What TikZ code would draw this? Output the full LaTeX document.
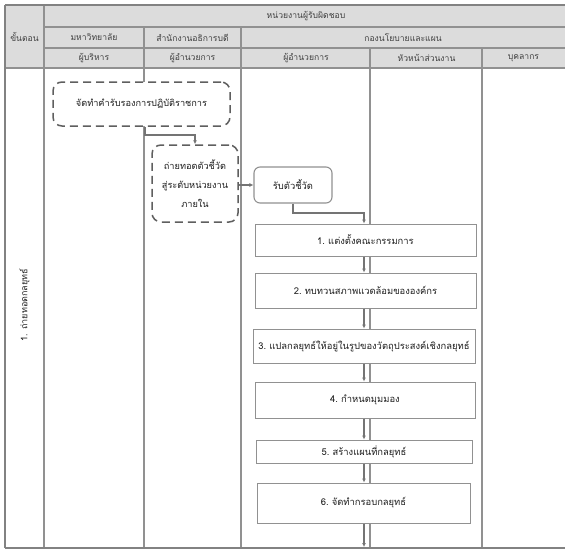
\documentclass[tikz,border=0pt]{standalone}
\usepackage{fontspec}
\newfontfamily\thai[Script=Thai]{Loma}
\usetikzlibrary{arrows.meta}
\definecolor{gridc}{RGB}{145,145,145}
\definecolor{headfill}{RGB}{220,220,220}
\definecolor{txtc}{RGB}{30,30,30}
\definecolor{dashc}{RGB}{95,95,95}
\tikzset{
  headcell/.style={fill=headfill, draw=none, inner sep=0pt, font=\thai\fontsize{8.6}{9}\selectfont, text=txtc!85},
  gridline/.style={draw=gridc, line width=1.1pt},
  outerline/.style={draw=gridc!90!black, line width=1.6pt},
  stepbox/.style={draw=gridc, line width=1pt, fill=white, inner sep=1pt, font=\thai\fontsize{9.4}{10}\selectfont, text=txtc},
  dashbox/.style={draw=dashc, line width=1.5pt, dash pattern=on 8pt off 5pt, rounded corners=9pt, fill=white, align=center, font=\thai\fontsize{9.2}{19}\selectfont, text=txtc},
  roundbox/.style={draw=gridc, line width=1.1pt, rounded corners=6pt, fill=white, font=\thai\fontsize{9.4}{10}\selectfont, text=txtc},
  arr/.style={draw=gridc!80!black, line width=1.1pt, -{Latex[length=4pt,width=4pt]}},
  sidetext/.style={font=\thai\fontsize{9}{10}\selectfont, text=txtc, rotate=90}
}
\begin{document}
\begin{tikzpicture}[x=1pt,y=-1pt]
\useasboundingbox (0,0) rectangle (565,550);
% header fills
\fill[headfill] (5,5) rectangle (565,68);
% header text nodes
\node[headcell] (hstep) at (24.5,36.5) {ขั้นตอน};
\node[headcell] (hresp) at (306,16) {หน่วยงานผู้รับผิดชอบ};
\node[headcell] (huni) at (94,37.5) {มหาวิทยาลัย};
\node[headcell] (hoff) at (192.5,37.5) {สำนักงานอธิการบดี};
\node[headcell] (hplan) at (403,37.5) {กองนโยบายและแผน};
\node[headcell] (hexe) at (94,58) {ผู้บริหาร};
\node[headcell] (hdir1) at (192.5,58) {ผู้อำนวยการ};
\node[headcell] (hdir2) at (306,58) {ผู้อำนวยการ};
\node[headcell] (hhead) at (426.5,58) {หัวหน้าส่วนงาน};
\node[headcell] (hstaff) at (523.5,58) {บุคลากร};
% grid lines
\draw[gridline] (44,27) -- (565,27);
\draw[gridline] (44,48) -- (565,48);
\draw[gridline] (5,68) -- (565,68);
\draw[gridline] (44,5) -- (44,548);
\draw[gridline] (144,27) -- (144,548);
\draw[gridline] (241,27) -- (241,548);
\draw[gridline] (370,48) -- (370,548);
\draw[gridline] (482,48) -- (482,548);
\draw[outerline] (5,5) -- (565,5);
\draw[outerline] (5,5) -- (5,548);
\draw[outerline] (5,548) -- (565,548);
% side label
\node[sidetext] (side) at (24.5,305) {1. ถ่ายทอดกลยุทธ์};
% boxes
\node[dashbox, minimum width=177pt, minimum height=44pt] (d1) at (141.5,104) {จัดทำคำรับรองการปฏิบัติราชการ};
\node[dashbox, minimum width=86pt, minimum height=77pt, inner sep=2pt] (d2) at (195,183.5) {ถ่ายทอดตัวชี้วัด\\สู่ระดับหน่วยงาน\\ภายใน};
\node[roundbox, minimum width=78pt, minimum height=36pt] (r3) at (293,185) {รับตัวชี้วัด};
\node[stepbox, minimum width=221pt, minimum height=32pt] (b1) at (365.5,240) {1.\ แต่งตั้งคณะกรรมการ};
\node[stepbox, minimum width=221pt, minimum height=35pt] (b2) at (365.5,290.5) {2.\ ทบทวนสภาพแวดล้อมขององค์กร};
\node[stepbox, minimum width=222pt, minimum height=34pt] (b3) at (364,346) {3.\ แปลกลยุทธ์ให้อยู่ในรูปของวัตถุประสงค์เชิงกลยุทธ์};
\node[stepbox, minimum width=220pt, minimum height=36pt] (b4) at (365,400) {4.\ กำหนดมุมมอง};
\node[stepbox, minimum width=216pt, minimum height=23pt] (b5) at (364,451.5) {5.\ สร้างแผนที่กลยุทธ์};
\node[stepbox, minimum width=213pt, minimum height=40pt] (b6) at (363.5,503) {6.\ จัดทำกรอบกลยุทธ์};
% helper coordinates
\coordinate (ax) at (364,0);
\coordinate (c1) at (145,135);
\coordinate (c2) at (293,213);
\coordinate (bot) at (364,547);
% connectors
\draw[arr] (d1.south -| c1) -- (c1) -| (d2.north);
\draw[arr] (r3.west -| d2.east) -- (r3.west);
\draw[arr] (r3.south) -- (c2) -| (b1.north -| ax);
\draw[arr] (b1.south -| ax) -- (b2.north -| ax);
\draw[arr] (b2.south -| ax) -- (b3.north -| ax);
\draw[arr] (b3.south -| ax) -- (b4.north -| ax);
\draw[arr] (b4.south -| ax) -- (b5.north -| ax);
\draw[arr] (b5.south -| ax) -- (b6.north -| ax);
\draw[arr] (b6.south -| ax) -- (bot);
\end{tikzpicture}
\end{document}
